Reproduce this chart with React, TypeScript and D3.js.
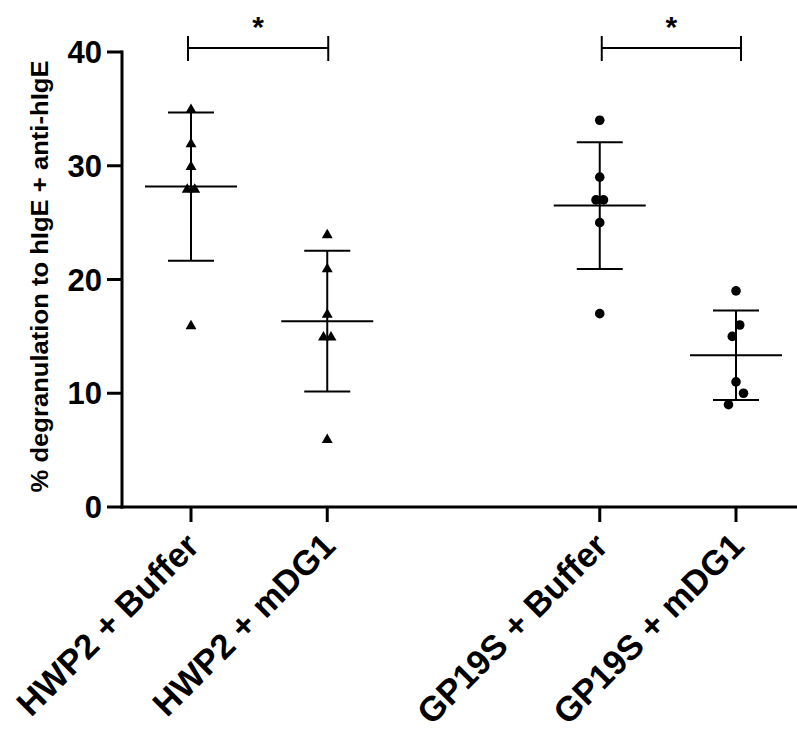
import * as d3 from "d3";
import { useEffect, useRef } from "react";

// groups on the x axis ("" is the empty slot between the two pairs)
const groups = ["HWP2 + Buffer", "HWP2 + mDG1", "", "GP19S + Buffer", "GP19S + mDG1"];
const hwp2Buffer = [35, 32, 30, 28, 28, 16];
const hwp2MDG1 = [24, 21, 17, 15, 15, 6];
const gp19sBuffer = [34, 29, 27, 27, 25, 17];
const gp19sMDG1 = [19, 16, 15, 11, 10, 9];
const seriesValues = [hwp2Buffer, hwp2MDG1, gp19sBuffer, gp19sMDG1];
const seriesGroups = ["HWP2 + Buffer", "HWP2 + mDG1", "GP19S + Buffer", "GP19S + mDG1"];
const seriesShapes = ["triangle", "triangle", "circle", "circle"];
const yTicks = [0, 10, 20, 30, 40];
const brackets = [
  ["HWP2 + Buffer", "HWP2 + mDG1", "*"],
  ["GP19S + Buffer", "GP19S + mDG1", "*"],
];
const yLabel = "% degranulation to hIgE + anti-hIgE";

export default function App() {
  const svgRef = useRef(null);

  const width = 797;
  const height = 731;
  const font = "'Liberation Sans', Arial, sans-serif";

  useEffect(() => {
    const svg = d3.select(svgRef.current);
    svg.selectAll("*").remove();

    const x = d3.scalePoint().domain(groups).range([191, 736]);
    const y = d3.scaleLinear().domain([0, 40]).range([507, 52]);

    // y axis
    svg.append("line")
      .attr("x1", 122).attr("x2", 122)
      .attr("y1", y(0) + 1.5).attr("y2", y(40) - 1.5)
      .attr("stroke", "black").attr("stroke-width", 3);
    svg.selectAll(".ytick")
      .data(yTicks)
      .join("line")
      .attr("x1", 107).attr("x2", 122)
      .attr("y1", d => y(d)).attr("y2", d => y(d))
      .attr("stroke", "black").attr("stroke-width", 3);
    svg.selectAll(".ylab")
      .data(yTicks)
      .join("text")
      .attr("x", 102).attr("y", d => y(d))
      .attr("dy", "0.36em")
      .attr("text-anchor", "end")
      .attr("font-family", font).attr("font-weight", "bold").attr("font-size", 31)
      .text(d => d);

    svg.append("text")
      .attr("transform", `translate(48, ${(y(0) + y(40)) / 2 - 3}) rotate(-90)`)
      .attr("text-anchor", "middle")
      .attr("font-family", font).attr("font-weight", "bold").attr("font-size", 23)
      .attr("textLength", 432).attr("lengthAdjust", "spacingAndGlyphs")
      .text(yLabel);

    // x axis
    svg.append("line")
      .attr("x1", 120.5).attr("x2", width)
      .attr("y1", y(0)).attr("y2", y(0))
      .attr("stroke", "black").attr("stroke-width", 3);
    svg.selectAll(".xtick")
      .data(seriesGroups)
      .join("line")
      .attr("x1", d => x(d)).attr("x2", d => x(d))
      .attr("y1", y(0)).attr("y2", y(0) + 15)
      .attr("stroke", "black").attr("stroke-width", 3);
    svg.selectAll(".xlab")
      .data(seriesGroups)
      .join("text")
      .attr("transform", d => `translate(${x(d) + 10}, 548) rotate(-45)`)
      .attr("text-anchor", "end")
      .attr("font-family", font).attr("font-weight", "bold").attr("font-size", 34.5)
      .text(d => d);

    // points, mean and SD
    const tri = d3.symbol().type(d3.symbolTriangle).size(52);
    const circ = d3.symbol().type(d3.symbolCircle).size(72);
    seriesValues.forEach((vals, i) => {
      const cx = x(seriesGroups[i]);
      const m = d3.mean(vals);
      const sd = d3.deviation(vals);
      const g = svg.append("g");

      g.append("line")
        .attr("x1", cx).attr("x2", cx)
        .attr("y1", y(m + sd)).attr("y2", y(m - sd))
        .attr("stroke", "black").attr("stroke-width", 2);
      [m + sd, m - sd].forEach(v => {
        g.append("line")
          .attr("x1", cx - 23).attr("x2", cx + 23)
          .attr("y1", y(v)).attr("y2", y(v))
          .attr("stroke", "black").attr("stroke-width", 2);
      });
      g.append("line")
        .attr("x1", cx - 46).attr("x2", cx + 46)
        .attr("y1", y(m)).attr("y2", y(m))
        .attr("stroke", "black").attr("stroke-width", 2);

      // spread points that would overlap, like a column scatter
      const sorted = vals.slice().sort((a, b) => b - a);
      const clusters = [];
      sorted.forEach(v => {
        const last = clusters[clusters.length - 1];
        if (last && y(v) - y(last[last.length - 1]) < 14) last.push(v);
        else clusters.push([v]);
      });
      const pts = [];
      clusters.forEach(c => {
        const odd = c.length % 2 === 1;
        c.forEach((v, k) => {
          let off;
          if (odd) off = k === 0 ? 0 : (k % 2 === 1 ? 1 : -1) * Math.ceil(k / 2);
          else off = (k % 2 === 0 ? 1 : -1) * (Math.floor(k / 2) + 0.5) * 2 / 2;
          pts.push({ v, off });
        });
      });

      g.selectAll("path")
        .data(pts)
        .join("path")
        .attr("transform", d => `translate(${cx + d.off * 7.5}, ${y(d.v) + (seriesShapes[i] === "triangle" ? 1 : 0)})`)
        .attr("d", seriesShapes[i] === "triangle" ? tri() : circ())
        .attr("fill", "black");
    });

    // significance brackets
    brackets.forEach(([a, b, s], i) => {
      const x1 = x(a) + (i === 0 ? -3 : 2);
      const x2 = x(b) + (i === 0 ? 1 : 5);
      const by = 48;
      const g = svg.append("g").attr("stroke", "black").attr("stroke-width", 2);
      g.append("line").attr("x1", x1).attr("x2", x2).attr("y1", by).attr("y2", by);
      g.append("line").attr("x1", x1).attr("x2", x1).attr("y1", by - 12).attr("y2", by + 13);
      g.append("line").attr("x1", x2).attr("x2", x2).attr("y1", by - 12).attr("y2", by + 13);
      svg.append("text")
        .attr("x", (x1 + x2) / 2).attr("y", 37)
        .attr("text-anchor", "middle")
        .attr("font-family", font).attr("font-weight", "bold").attr("font-size", 30)
        .text(s);
    });
  }, []);

  return (
    <svg
      ref={svgRef}
      width={width}
      height={height}
      viewBox={`0 0 ${width} ${height}`}
      style={{ position: "absolute", left: 0, top: 0, background: "white" }}
      xmlns="http://www.w3.org/2000/svg"
    />
  );
}
